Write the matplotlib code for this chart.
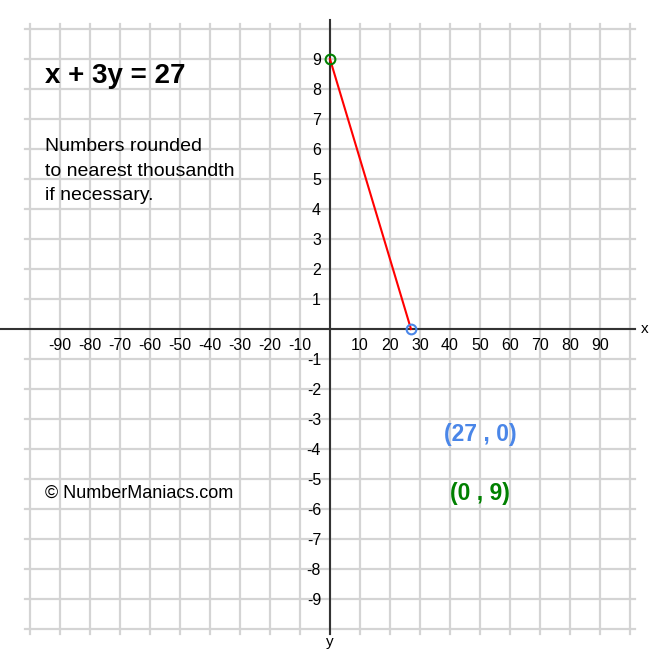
import matplotlib.pyplot as plt

x_ticks = [-90, -80, -70, -60, -50, -40, -30, -20, -10, 10, 20, 30, 40, 50, 60, 70, 80, 90]
y_ticks = [-9, -8, -7, -6, -5, -4, -3, -2, -1, 1, 2, 3, 4, 5, 6, 7, 8, 9]
line_x = [0, 27]
line_y = [9, 0]
x_int = (27, 0)
y_int = (0, 9)
note_lines = ['Numbers rounded', 'to nearest thousandth', 'if necessary.']

plt.rcParams['font.family'] = ['Liberation Sans', 'DejaVu Sans']

fig = plt.figure(figsize=(6.6, 6.6), dpi=100)
ax = fig.add_axes([0, 0, 1, 1])
ax.set_xlim(-110, 110)
ax.set_ylim(-11.03, 10.97)
ax.axis('off')

grid_c = '#d4d4d4'
# grid, 10 units on x and 1 unit on y per cell
for gx in range(-100, 101, 10):
    ax.plot([gx, gx], [-10.17, 10.17], color=grid_c, lw=1.6, zorder=1)
for gy in range(-10, 11):
    ax.plot([-101.7, 101.7], [gy, gy], color=grid_c, lw=1.6, zorder=1)

# axes
ax.plot([-110, 101.7], [0, 0], color='#333333', lw=1.5, zorder=2)
ax.plot([0, 0], [-10.17, 10.3], color='#333333', lw=1.5, zorder=2)
ax.text(105, 0, 'x', fontsize=11, ha='center', va='center')
ax.text(0, -10.42, 'y', fontsize=11, ha='center', va='center')

for t in x_ticks:
    ax.text(t, -0.55, str(t), fontsize=11.5, ha='center', va='center', zorder=3)
for t in y_ticks:
    ax.text(-3.0, t - 0.05, str(t), fontsize=11.5, ha='right', va='center', zorder=3)

# line and intercepts
ax.plot(line_x, line_y, color='red', lw=1.5, zorder=4)
ax.plot(*x_int, 'o', ms=7, mfc='none', mec='#4a86e8', mew=1.5, zorder=5)
ax.plot(*y_int, 'o', ms=7, mfc='none', mec='green', mew=1.5, zorder=5)

ax.text(-95, 8.2, 'x + 3y = 27', fontsize=20, fontweight='bold', va='baseline')
for i, s in enumerate(note_lines):
    ax.text(-95, 5.95 - i * 0.83, s, fontsize=14, va='baseline')
ax.text(-95, -5.47, '\u00a9 NumberManiacs.com', fontsize=13, va='center')
ax.text(50, -3.53, f'({x_int[0]} , {x_int[1]})', fontsize=16.5, fontweight='bold',
        color='#4a86e8', ha='center', va='center')
ax.text(50, -5.47, f'({y_int[0]} , {y_int[1]})', fontsize=16.5, fontweight='bold',
        color='green', ha='center', va='center')

fig.savefig('out.png', dpi=100)
